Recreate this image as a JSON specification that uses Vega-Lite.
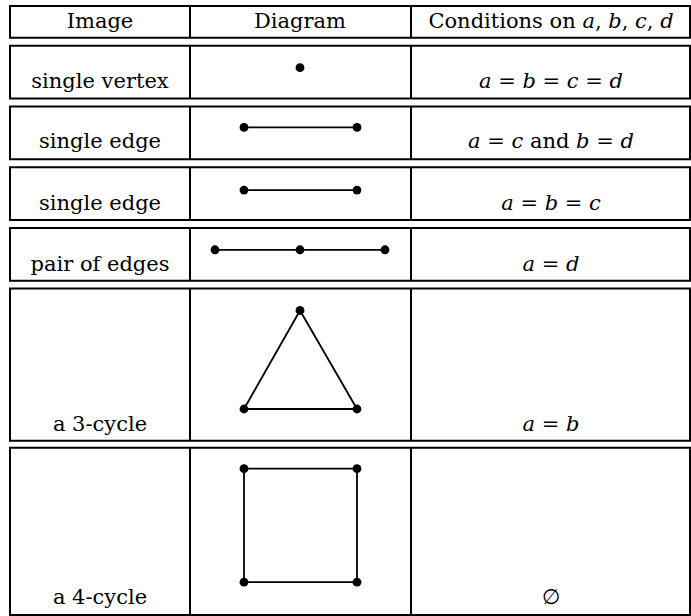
{
  "$schema": "https://vega.github.io/schema/vega-lite/v6.json",
  "width": 691,
  "height": 616,
  "autosize": {"type": "fit", "contains": "padding"},
  "padding": 0,
  "background": "white",
  "config": {"view": {"stroke": null}},
  "datasets": {
    "boxes": [
      {"row": "header", "top": 6, "bottom": 38},
      {"row": "single vertex", "top": 46, "bottom": 99},
      {"row": "single edge A", "top": 107, "bottom": 160},
      {"row": "single edge B", "top": 168, "bottom": 221},
      {"row": "pair of edges", "top": 229, "bottom": 282},
      {"row": "a 3-cycle", "top": 290, "bottom": 443},
      {"row": "a 4-cycle", "top": 450, "bottom": 618}
    ],
    "edges": [
      {"x": 244, "y": 128, "x2": 357, "y2": 128},
      {"x": 244, "y": 191, "x2": 357, "y2": 191},
      {"x": 215, "y": 251, "x2": 300, "y2": 251},
      {"x": 300, "y": 251, "x2": 385, "y2": 251},
      {"x": 300, "y": 312, "x2": 244, "y2": 411},
      {"x": 300, "y": 312, "x2": 357, "y2": 411},
      {"x": 244, "y": 411, "x2": 357, "y2": 411},
      {"x": 244, "y": 471, "x2": 357, "y2": 471},
      {"x": 357, "y": 471, "x2": 357, "y2": 585},
      {"x": 357, "y": 585, "x2": 244, "y2": 585},
      {"x": 244, "y": 585, "x2": 244, "y2": 471}
    ],
    "vertices": [
      {"x": 300, "y": 68},
      {"x": 244, "y": 128}, {"x": 357, "y": 128},
      {"x": 244, "y": 191}, {"x": 357, "y": 191},
      {"x": 215, "y": 251}, {"x": 300, "y": 251}, {"x": 385, "y": 251},
      {"x": 300, "y": 312}, {"x": 244, "y": 411}, {"x": 357, "y": 411},
      {"x": 244, "y": 471}, {"x": 357, "y": 471}, {"x": 244, "y": 585}, {"x": 357, "y": 585}
    ],
    "labels": [
      {"x": 100, "y": 28, "text": "Image"},
      {"x": 300, "y": 28, "text": "Diagram"},
      {"x": 551, "y": 28, "text": "Conditions on 𝑎, 𝑏, 𝑐, 𝑑"},
      {"x": 100, "y": 88, "text": "single vertex"},
      {"x": 551, "y": 88, "text": "𝑎 = 𝑏 = 𝑐 = 𝑑"},
      {"x": 100, "y": 149, "text": "single edge"},
      {"x": 551, "y": 149, "text": "𝑎 = 𝑐 and 𝑏 = 𝑑"},
      {"x": 100, "y": 211, "text": "single edge"},
      {"x": 551, "y": 211, "text": "𝑎 = 𝑏 = 𝑐"},
      {"x": 100, "y": 272, "text": "pair of edges"},
      {"x": 551, "y": 272, "text": "𝑎 = 𝑑"},
      {"x": 100, "y": 433, "text": "a 3-cycle"},
      {"x": 551, "y": 433, "text": "𝑎 = 𝑏"},
      {"x": 100, "y": 607, "text": "a 4-cycle"},
      {"x": 551, "y": 607, "text": "∅"}
    ]
  },
  "layer": [
    {
      "data": {"name": "boxes"},
      "mark": {"type": "rect", "fill": null, "stroke": "black", "strokeWidth": 2},
      "encoding": {
        "x": {"datum": 10, "type": "quantitative", "scale": {"domain": [0, 691], "nice": false, "zero": false}, "axis": null},
        "x2": {"datum": 690},
        "y": {"field": "top", "type": "quantitative", "scale": {"domain": [0, 616], "nice": false, "zero": false, "reverse": true}, "axis": null},
        "y2": {"field": "bottom"}
      }
    },
    {
      "data": {"name": "boxes"},
      "mark": {"type": "rule", "stroke": "black", "strokeWidth": 2},
      "encoding": {
        "x": {"datum": 190, "type": "quantitative"},
        "y": {"field": "top", "type": "quantitative"},
        "y2": {"field": "bottom"}
      }
    },
    {
      "data": {"name": "boxes"},
      "mark": {"type": "rule", "stroke": "black", "strokeWidth": 2},
      "encoding": {
        "x": {"datum": 411, "type": "quantitative"},
        "y": {"field": "top", "type": "quantitative"},
        "y2": {"field": "bottom"}
      }
    },
    {
      "data": {"name": "edges"},
      "mark": {"type": "rule", "stroke": "black", "strokeWidth": 1.8},
      "encoding": {
        "x": {"field": "x", "type": "quantitative"},
        "y": {"field": "y", "type": "quantitative"},
        "x2": {"field": "x2"},
        "y2": {"field": "y2"}
      }
    },
    {
      "data": {"name": "vertices"},
      "mark": {"type": "point", "shape": "circle", "filled": true, "color": "black", "opacity": 1, "size": 78},
      "encoding": {
        "x": {"field": "x", "type": "quantitative"},
        "y": {"field": "y", "type": "quantitative"}
      }
    },
    {
      "data": {"name": "labels"},
      "mark": {"type": "text", "font": "DejaVu Serif", "fontSize": 21, "align": "center", "baseline": "alphabetic", "color": "black"},
      "encoding": {
        "x": {"field": "x", "type": "quantitative"},
        "y": {"field": "y", "type": "quantitative"},
        "text": {"field": "text"}
      }
    }
  ]
}
